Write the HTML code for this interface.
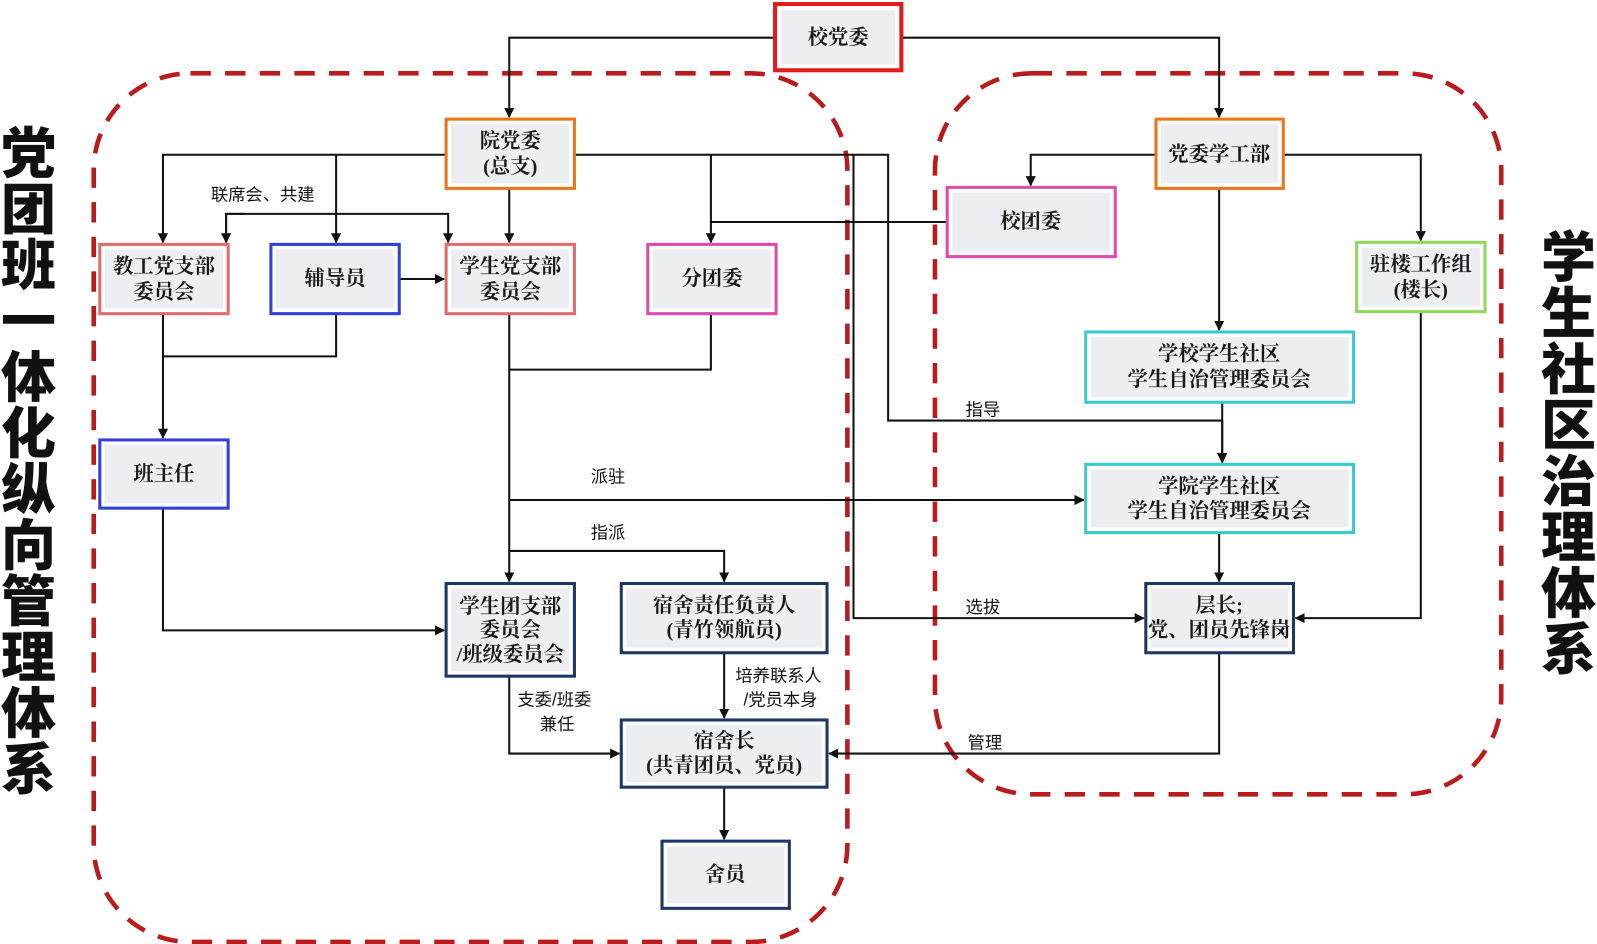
<!DOCTYPE html>
<html><head><meta charset="utf-8"><style>
html,body{margin:0;padding:0;background:#fff;}
svg{display:block;}
.b{font-family:"Liberation Serif","Noto Serif CJK SC",serif;font-weight:bold;font-size:20px;fill:#1a1a1a;text-anchor:middle;}
.l{font-family:"Liberation Sans","Noto Sans CJK SC",sans-serif;font-size:17px;fill:#111;}
.t{font-family:"Liberation Sans","Noto Sans CJK SC",sans-serif;font-weight:900;font-size:54px;fill:#111;text-anchor:middle;}
.c{fill:none;stroke:#111;stroke-width:2;}
</style></head><body>
<svg width="1597" height="944" viewBox="0 0 1568 927" preserveAspectRatio="none" xmlns="http://www.w3.org/2000/svg">
<defs><marker id="a" markerWidth="10" markerHeight="10" refX="9" refY="5" orient="auto" markerUnits="userSpaceOnUse"><path d="M0,0 L10,5 L0,10 z" fill="#111"/></marker></defs>
<rect x="92" y="72" width="740" height="853" rx="95" fill="none" stroke="#b81c1c" stroke-width="4.5" stroke-dasharray="20,14"/>
<rect x="918" y="72" width="556" height="708" rx="95" fill="none" stroke="#b81c1c" stroke-width="4.5" stroke-dasharray="20,14"/>
<g class="t">
<text x="28" y="170">党</text><text x="28" y="225">团</text><text x="28" y="280">班</text><text x="28" y="335">一</text><text x="28" y="390">体</text><text x="28" y="445">化</text><text x="28" y="500">纵</text><text x="28" y="555">向</text><text x="28" y="610">管</text><text x="28" y="665">理</text><text x="28" y="720">体</text><text x="28" y="775">系</text>
<text x="1540" y="272">学</text><text x="1540" y="327">生</text><text x="1540" y="382">社</text><text x="1540" y="437">区</text><text x="1540" y="492">治</text><text x="1540" y="547">理</text><text x="1540" y="602">体</text><text x="1540" y="657">系</text>
</g>
<g class="c">
<path d="M760,37 H500 V115" marker-end="url(#a)"/>
<path d="M886,37 H1197 V115" marker-end="url(#a)"/>
<path d="M438,152 H160 V238" marker-end="url(#a)"/>
<path d="M330,152 V238" marker-end="url(#a)"/>
<path d="M500,185 V238" marker-end="url(#a)"/>
<path d="M222,238 V210 H440 V238" marker-end="url(#a)"/>
<path d="M240,210 H222 V238" marker-end="url(#a)"/>
<path d="M392,274 H436" marker-end="url(#a)"/>
<path d="M564,152 H872 V413 H1200 V454" marker-end="url(#a)"/>
<path d="M698,152 V238" marker-end="url(#a)"/>
<path d="M838,152 V607 H1123" marker-end="url(#a)"/>
<path d="M930,218 H698"/>
<path d="M1135,152 H1012 V182" marker-end="url(#a)"/>
<path d="M1197,185 V324" marker-end="url(#a)"/>
<path d="M1260,152 H1395 V236" marker-end="url(#a)"/>
<path d="M1200,395 V454" marker-end="url(#a)"/>
<path d="M1197,523 V571" marker-end="url(#a)"/>
<path d="M1395,306 V607 H1272" marker-end="url(#a)"/>
<path d="M160,308 V430" marker-end="url(#a)"/>
<path d="M330,308 V350 H160"/>
<path d="M160,499 V619 H436" marker-end="url(#a)"/>
<path d="M500,308 V571" marker-end="url(#a)"/>
<path d="M698,308 V363 H500"/>
<path d="M500,491 H1064" marker-end="url(#a)"/>
<path d="M500,541 H711 V571" marker-end="url(#a)"/>
<path d="M500,664 V740 H608" marker-end="url(#a)"/>
<path d="M711,641 V705" marker-end="url(#a)"/>
<path d="M1197,641 V740 H814" marker-end="url(#a)"/>
<path d="M711,773 V824" marker-end="url(#a)"/>
</g>
<g class="l">
<text x="207" y="197">联席会、共建</text>
<text x="948" y="408">指导</text>
<text x="580" y="474">派驻</text>
<text x="580" y="529">指派</text>
<text x="948" y="602">选拔</text>
<text x="508" y="693">支委/班委</text>
<text x="530" y="717">兼任</text>
<text x="722" y="669">培养联系人</text>
<text x="730" y="693">/党员本身</text>
<text x="950" y="735">管理</text>
</g>
<g id="boxes">
<rect x="761" y="4" width="124" height="65" fill="#fff" stroke="#e01b1b" stroke-width="4"/><rect x="767" y="10" width="112" height="53" fill="#eceef1"/>
<rect x="438" y="117" width="126" height="68" fill="#fff" stroke="#e8771a" stroke-width="3"/><rect x="443" y="122" width="116" height="58" fill="#eceef1"/>
<rect x="1135" y="117" width="125" height="68" fill="#fff" stroke="#e8771a" stroke-width="3"/><rect x="1140" y="122" width="115" height="58" fill="#eceef1"/>
<rect x="930" y="184" width="165" height="68" fill="#fff" stroke="#e04aa8" stroke-width="3"/><rect x="935" y="189" width="155" height="58" fill="#eceef1"/>
<rect x="98" y="240" width="126" height="68" fill="#fff" stroke="#e26a6a" stroke-width="3"/><rect x="103" y="245" width="116" height="58" fill="#eceef1"/>
<rect x="266" y="240" width="126" height="68" fill="#fff" stroke="#3040d8" stroke-width="3"/><rect x="271" y="245" width="116" height="58" fill="#eceef1"/>
<rect x="438" y="240" width="126" height="68" fill="#fff" stroke="#e26a6a" stroke-width="3"/><rect x="443" y="245" width="116" height="58" fill="#eceef1"/>
<rect x="636" y="240" width="126" height="68" fill="#fff" stroke="#e04aa8" stroke-width="3"/><rect x="641" y="245" width="116" height="58" fill="#eceef1"/>
<rect x="1332" y="238" width="126" height="68" fill="#fff" stroke="#8ed85a" stroke-width="3"/><rect x="1337" y="243" width="116" height="58" fill="#eceef1"/>
<rect x="1066" y="326" width="263" height="69" fill="#fff" stroke="#3cc8cc" stroke-width="3"/><rect x="1071" y="331" width="253" height="59" fill="#eceef1"/>
<rect x="98" y="432" width="126" height="67" fill="#fff" stroke="#3040d8" stroke-width="3"/><rect x="103" y="437" width="116" height="57" fill="#eceef1"/>
<rect x="1066" y="456" width="263" height="67" fill="#fff" stroke="#3cc8cc" stroke-width="3"/><rect x="1071" y="461" width="253" height="57" fill="#eceef1"/>
<rect x="438" y="573" width="126" height="91" fill="#fff" stroke="#1c3766" stroke-width="3"/><rect x="443" y="578" width="116" height="81" fill="#eceef1"/>
<rect x="610" y="573" width="202" height="68" fill="#fff" stroke="#1c3766" stroke-width="3"/><rect x="615" y="578" width="192" height="58" fill="#eceef1"/>
<rect x="1125" y="573" width="145" height="68" fill="#fff" stroke="#1c3766" stroke-width="3"/><rect x="1130" y="578" width="135" height="58" fill="#eceef1"/>
<rect x="610" y="707" width="202" height="66" fill="#fff" stroke="#1c3766" stroke-width="3"/><rect x="615" y="712" width="192" height="56" fill="#eceef1"/>
<rect x="650" y="826" width="125" height="66" fill="#fff" stroke="#1c3766" stroke-width="3"/><rect x="655" y="831" width="115" height="56" fill="#eceef1"/>
</g>
<g class="b">
<text x="823" y="43">校党委</text>
<text x="501" y="145">院党委</text><text x="501" y="170">(总支)</text>
<text x="1197" y="158">党委学工部</text>
<text x="1012" y="224">校团委</text>
<text x="161" y="268">教工党支部</text><text x="161" y="293">委员会</text>
<text x="329" y="280">辅导员</text>
<text x="501" y="268">学生党支部</text><text x="501" y="293">委员会</text>
<text x="699" y="280">分团委</text>
<text x="1395" y="266">驻楼工作组</text><text x="1395" y="291">(楼长)</text>
<text x="1197" y="354">学校学生社区</text><text x="1197" y="379">学生自治管理委员会</text>
<text x="161" y="472">班主任</text>
<text x="1197" y="484">学院学生社区</text><text x="1197" y="508">学生自治管理委员会</text>
<text x="501" y="602">学生团支部</text><text x="501" y="625">委员会</text><text x="501" y="649">/班级委员会</text>
<text x="711" y="601">宿舍责任负责人</text><text x="711" y="625">(青竹领航员)</text>
<text x="1197" y="601">层长;</text><text x="1197" y="625">党、团员先锋岗</text>
<text x="711" y="734">宿舍长</text><text x="711" y="758">(共青团员、党员)</text>
<text x="712" y="865">舍员</text>
</g>
</svg>
</body></html>
